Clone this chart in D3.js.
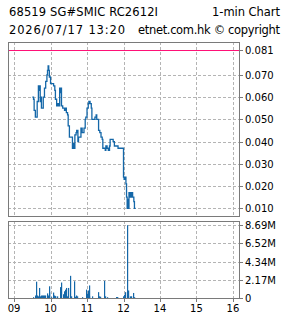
<!DOCTYPE html>
<html>
<head>
<meta charset="utf-8">
<script src="https://cdn.jsdelivr.net/npm/d3@7"></script>
<style>
body { margin: 0; background: #fff; }
text { font-family: "DejaVu Sans", sans-serif; fill: #000; }
</style>
</head>
<body>
<svg width="285" height="318"></svg>
<script>
const width = 285;
const height = 318;

const priceTimes = ['09:30', '09:32', '09:33', '09:35', '09:38', '09:40', '09:41', '09:42', '09:43', '09:44',
  '09:45', '09:48', '09:50', '09:52', '09:54', '09:55', '09:56', '09:57', '09:58', '10:00',
  '10:05', '10:07', '10:08', '10:10', '10:12', '10:13', '10:15', '10:16', '10:17', '10:18',
  '10:20', '10:23', '10:24', '10:26', '10:28', '10:29', '10:31', '10:36', '10:37', '10:39',
  '10:40', '10:42', '10:43', '10:45', '10:46', '10:50', '10:52', '10:55', '10:57', '10:58',
  '11:00', '11:02', '11:03', '11:05', '11:07', '11:08', '11:13', '11:15', '11:16', '11:19',
  '11:21', '11:23', '11:25', '11:26', '11:30', '11:31', '11:33', '11:35', '11:37', '11:38',
  '11:43', '11:45', '11:51', '13:00', '13:01', '13:02', '13:04', '13:05', '13:06', '13:07',
  '13:08', '13:09', '13:11', '13:13', '13:15', '13:17', '13:18', '13:20'];
const prices = [0.060, 0.059, 0.054, 0.051, 0.058, 0.065, 0.063, 0.065, 0.058, 0.060,
  0.055, 0.060, 0.064, 0.067, 0.070, 0.072, 0.074, 0.072, 0.069, 0.066,
  0.065, 0.063, 0.059, 0.056, 0.057, 0.056, 0.064, 0.062, 0.064, 0.056,
  0.055, 0.054, 0.055, 0.053, 0.052, 0.047, 0.042, 0.037, 0.039, 0.037,
  0.043, 0.044, 0.045, 0.040, 0.042, 0.046, 0.044, 0.046, 0.050, 0.051,
  0.055, 0.057, 0.058, 0.057, 0.055, 0.050, 0.051, 0.052, 0.050, 0.045,
  0.044, 0.042, 0.041, 0.037, 0.036, 0.038, 0.037, 0.036, 0.038, 0.041,
  0.040, 0.038, 0.037, 0.024, 0.023, 0.024, 0.021, 0.015, 0.010, 0.014,
  0.010, 0.017, 0.015, 0.017, 0.015, 0.013, 0.010, 0.010];

const volTimes = ['09:31', '09:34', '09:36', '09:37', '09:39', '09:41', '09:42', '09:44', '09:46', '09:47',
  '09:49', '09:51', '09:54', '09:55', '09:57', '09:58', '10:01', '10:04', '10:05', '10:07',
  '10:08', '10:11', '10:15', '10:18', '10:20', '10:22', '10:24', '10:26', '10:27', '10:29',
  '10:32', '10:34', '10:38', '10:40', '10:42', '10:44', '10:52', '10:59', '11:00', '11:02',
  '11:03', '11:04', '11:08', '11:18', '11:19', '11:21', '11:28', '11:30', '11:33', '11:47',
  '11:48', '11:49', '11:50', '11:59', '13:01', '13:03', '13:05', '13:07', '13:08', '13:10',
  '13:12', '13:16', '13:18'];
// millions of units
const volumes = [0.1, 0.3, 1.95, 0.3, 0.2, 1.2, 0.2, 0.3, 0.3, 0.3,
  0.3, 0.3, 0.55, 0.3, 1.4, 0.7, 0.1, 0.65, 0.3, 0.2,
  0.2, 0.2, 1.3, 1.85, 0.45, 0.8, 1.0, 1.2, 0.2, 1.2,
  2.65, 0.2, 2.0, 0.15, 0.3, 0.2, 0.1, 1.0, 0.5, 0.9,
  1.5, 0.2, 0.2, 0.7, 0.2, 0.15, 2.05, 0.2, 0.1, 0.1,
  0.1, 0.1, 0.1, 0.2, 0.4, 0.7, 8.7, 0.9, 0.2, 0.2,
  0.2, 0.6, 0.1];

const prevClose = 0.081;
const priceTicks = [0.010, 0.020, 0.030, 0.040, 0.050, 0.060, 0.070];
const volTicks = [0, 2.17, 4.34, 6.52, 8.69];
const volLabels = ['0', '2.17M', '4.34M', '6.52M', '8.69M'];
const hourTicks = ['09:00', '10:00', '11:00', '12:00', '14:00', '15:00', '16:00'];
const hourLabels = ['09', '10', '11', '12', '14', '15', '16'];

// minutes since 9:00 with the lunch hour taken out
function tradeMin(t) {
  const [h, m] = t.split(':').map(Number);
  let v = h * 60 + m - 540;
  if (h >= 13) v -= 60;
  return v;
}

const svg = d3.select('svg');
const blue = '#1467a8';
const gridCol = '#b4b4b4';
const frameCol = '#7a7a7a';

const xScale = d3.scaleLinear().domain([-10, 370]).range([8, 239]);
const yScale = d3.scaleLinear().domain([0.00654, 0.08474]).range([216, 42]);
const vScale = d3.scaleLinear().domain([0, 9.204]).range([298, 221]);

const px = v => Math.round(v) + 0.5;

// header
const head = svg.append('g').style('font-size', '11.5px');
head.append('text').attr('x', 9).attr('y', 16).attr('textLength', 149).attr('lengthAdjust', 'spacing').text('68519 SG#SMIC RC2612I');
head.append('text').attr('x', 212).attr('y', 16).attr('textLength', 68).attr('lengthAdjust', 'spacing').text('1-min Chart');
head.append('text').attr('x', 9).attr('y', 34).attr('textLength', 116).attr('lengthAdjust', 'spacing').text('2026/07/17 13:20');
head.append('text').attr('x', 138).attr('y', 34).attr('textLength', 142).attr('lengthAdjust', 'spacing').text('etnet.com.hk \u00a9 copyright');

function panel(top, bottom, ticks, scale) {
  const g = svg.append('g');
  g.selectAll('.hg').data(ticks).enter().append('line')
    .attr('x1', 8).attr('x2', 239)
    .attr('y1', d => px(scale(d))).attr('y2', d => px(scale(d)))
    .attr('stroke', gridCol).attr('stroke-dasharray', '3,2');
  g.selectAll('.vg').data(hourTicks).enter().append('line')
    .attr('x1', d => px(xScale(tradeMin(d)))).attr('x2', d => px(xScale(tradeMin(d))))
    .attr('y1', top).attr('y2', bottom)
    .attr('stroke', gridCol).attr('stroke-dasharray', '3,2');
  return g;
}

// price panel
panel(42, 216, priceTicks, yScale);

svg.append('line')
  .attr('x1', 9).attr('x2', 239)
  .attr('y1', px(yScale(prevClose))).attr('y2', px(yScale(prevClose)))
  .attr('stroke', '#ff1177').attr('stroke-width', 1.2);

const pts = priceTimes.map((t, i) => [xScale(tradeMin(t)), yScale(prices[i])]);
svg.append('path')
  .attr('d', d3.line().curve(d3.curveStepAfter)(pts))
  .attr('fill', 'none').attr('stroke', blue).attr('stroke-width', 1.3);

svg.append('rect').attr('x', 8.5).attr('y', 42.5).attr('width', 231).attr('height', 174)
  .attr('fill', 'none').attr('stroke', frameCol);

const yTicks = priceTicks.concat([prevClose]);
svg.selectAll('.ptick').data(yTicks).enter().append('line')
  .attr('x1', 240).attr('x2', 243)
  .attr('y1', d => px(yScale(d))).attr('y2', d => px(yScale(d)))
  .attr('stroke', frameCol);
svg.selectAll('.plab').data(yTicks).enter().append('text')
  .attr('x', 245).attr('y', d => yScale(d) + 4)
  .style('font-size', '10px')
  .text(d => d3.format('.3f')(d));

// volume panel
panel(221, 298, volTicks.slice(1), vScale);

svg.selectAll('.vbar').data(volTimes).enter().append('rect')
  .attr('x', d => Math.round(xScale(tradeMin(d))))
  .attr('width', 1.2)
  .attr('y', (d, i) => vScale(volumes[i]))
  .attr('height', (d, i) => vScale(0) - vScale(volumes[i]))
  .attr('fill', blue);

svg.append('rect').attr('x', 8.5).attr('y', 221.5).attr('width', 231).attr('height', 77)
  .attr('fill', 'none').attr('stroke', frameCol);

svg.selectAll('.vtick').data(volTicks).enter().append('line')
  .attr('x1', 240).attr('x2', 243)
  .attr('y1', d => px(vScale(d))).attr('y2', d => px(vScale(d)))
  .attr('stroke', frameCol);
svg.selectAll('.vlab').data(volTicks).enter().append('text')
  .attr('x', 245).attr('y', d => vScale(d) + 4)
  .style('font-size', '10px')
  .text((d, i) => volLabels[i]);

svg.selectAll('.xtick').data(hourTicks).enter().append('line')
  .attr('x1', d => px(xScale(tradeMin(d)))).attr('x2', d => px(xScale(tradeMin(d))))
  .attr('y1', 299).attr('y2', 302)
  .attr('stroke', frameCol);
svg.selectAll('.xlab').data(hourTicks).enter().append('text')
  .attr('x', d => xScale(tradeMin(d)))
  .attr('y', 312)
  .attr('text-anchor', 'middle')
  .style('font-size', '10px')
  .text((d, i) => hourLabels[i]);
</script>
</body>
</html>
